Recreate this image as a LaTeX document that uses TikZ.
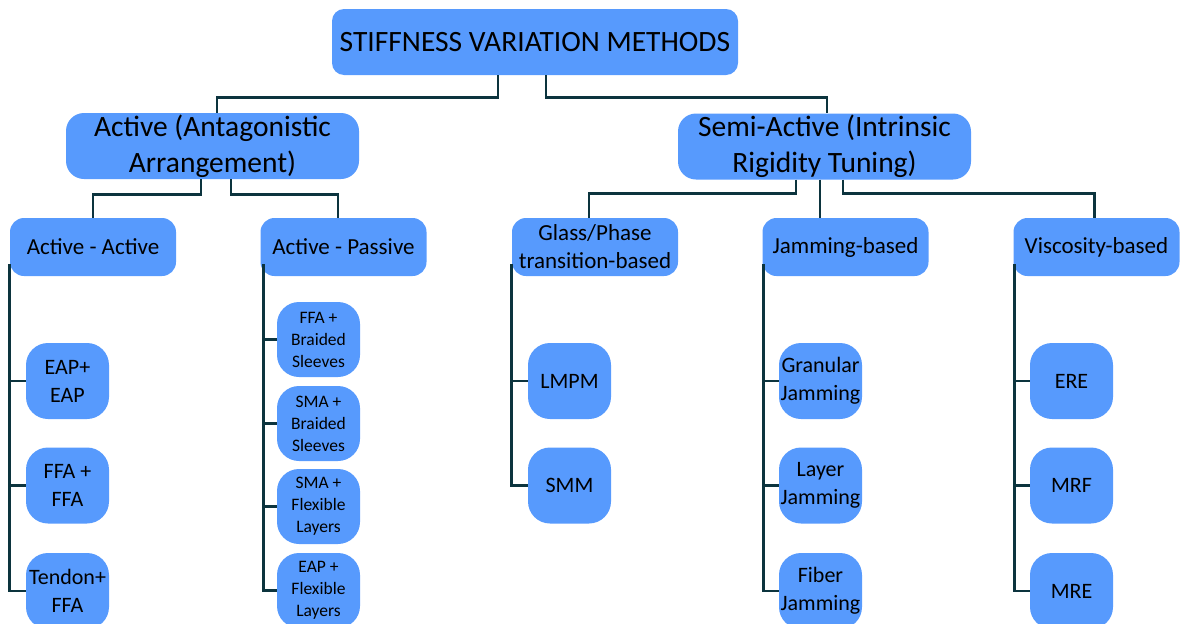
\documentclass[tikz,border=0pt]{standalone}
\usepackage{fontspec}
\setmainfont{Carlito}
\usetikzlibrary{positioning,calc}
\definecolor{boxblue}{RGB}{87,154,253}
\definecolor{linkteal}{RGB}{12,52,62}

\begin{document}
\begin{tikzpicture}[x=1pt, y=-1pt,
  box/.style={fill=boxblue, align=center, inner sep=0pt, text=black},
  rootbox/.style={box, rounded corners=12pt, minimum width=406pt, minimum height=66pt,
                  font=\fontsize{29.5}{36}\selectfont},
  grpbox/.style={box, rounded corners=18pt, minimum width=293pt, minimum height=66pt,
                 font=\fontsize{29.5}{36}\selectfont},
  subbox/.style={box, rounded corners=14pt, minimum width=166pt, minimum height=58pt,
                 font=\fontsize{23}{28}\selectfont},
  leafbox/.style={box, rounded corners=22pt, minimum width=83pt, minimum height=76pt,
                  font=\fontsize{22}{28}\selectfont},
  smallleaf/.style={leafbox, minimum height=75pt, font=\fontsize{17.5}{22}\selectfont},
  link/.style={draw=linkteal, line width=2.8pt}
]
\useasboundingbox (0,0) rectangle (1184,624);

% levels 0 and 1
\node[rootbox] (root) at (535,42) {STIFFNESS VARIATION METHODS};
\node[grpbox] (act)  at (212.5,146) {Active (Antagonistic\\Arrangement)};
\node[grpbox] (semi) at (824.5,146.5) {Semi-Active (Intrinsic\\Rigidity Tuning)};

% level 2
\node[subbox] (aa)    at (93,247)     {Active - Active};
\node[subbox] (ap)    at (343.5,247)  {Active - Passive};
\node[subbox] (glass) at (595,247)    {Glass/Phase\\transition-based};
\node[subbox] (jam)   at (845.5,247)  {Jamming-based};
\node[subbox] (visc)  at (1096.5,247) {Viscosity-based};

% leaves
\node[leafbox] (eap) at (67.5,381)   {EAP+\\EAP};
\node[leafbox] (ffa) at (67.5,485.5) {FFA +\\FFA};
\node[leafbox] (ten) at (67.5,591)   {Tendon+\\FFA};

\node[smallleaf] (ffab) at (318.5,339.5) {FFA +\\Braided\\Sleeves};
\node[smallleaf] (smab) at (318.5,423.5) {SMA +\\Braided\\Sleeves};
\node[smallleaf] (smaf) at (318.5,506.5) {SMA +\\Flexible\\Layers};
\node[smallleaf] (eapf) at (318.5,590.5) {EAP +\\Flexible\\Layers};

\node[leafbox] (lmpm) at (569.5,381)   {LMPM};
\node[leafbox] (smm)  at (569.5,485.5) {SMM};

\node[leafbox] (gran) at (820.5,381)   {Granular\\Jamming};
\node[leafbox] (lay)  at (820.5,485.5) {Layer\\Jamming};
\node[leafbox] (fib)  at (820.5,591)   {Fiber\\Jamming};

\node[leafbox] (ere) at (1071.5,381)   {ERE};
\node[leafbox] (mrf) at (1071.5,485.5) {MRF};
\node[leafbox] (mre) at (1071.5,591)   {MRE};

% tree links
\draw[link] ([xshift=-37pt]root.south) -- ++(0,22) -| ([xshift=4.5pt]act.north);
\draw[link] ([xshift=11pt]root.south) -- ++(0,22) -| ([xshift=2.5pt]semi.north);
\draw[link] ([xshift=-11.5pt]act.south) -- ++(0,15) -| (aa.north);
\draw[link] ([xshift=18.5pt]act.south) -- ++(0,15) -| ([xshift=-5.5pt]ap.north);
\draw[link] ([xshift=-28.5pt]semi.south) -- ++(0,14) -| ([xshift=-6pt]glass.north);
\draw[link] ([xshift=-4.5pt]semi.south) -- ([xshift=-25.5pt]jam.north);
\draw[link] ([xshift=18.5pt]semi.south) -- ++(0,14) -| ([xshift=-2pt]visc.north);

\foreach \leaf in {eap,ffa,ten}
  \draw[link] ([yshift=12pt]aa.south west) |- (\leaf.west);
\foreach \leaf in {ffab,smab,smaf,eapf}
  \draw[link] ([xshift=3pt,yshift=12pt]ap.south west) |- (\leaf.west);
\foreach \leaf in {lmpm,smm}
  \draw[link] ([yshift=12pt]glass.south west) |- (\leaf.west);
\foreach \leaf in {gran,lay,fib}
  \draw[link] ([xshift=1pt,yshift=12pt]jam.south west) |- (\leaf.west);
\foreach \leaf in {ere,mrf,mre}
  \draw[link] ([xshift=1pt,yshift=12pt]visc.south west) |- (\leaf.west);
\end{tikzpicture}
\end{document}
